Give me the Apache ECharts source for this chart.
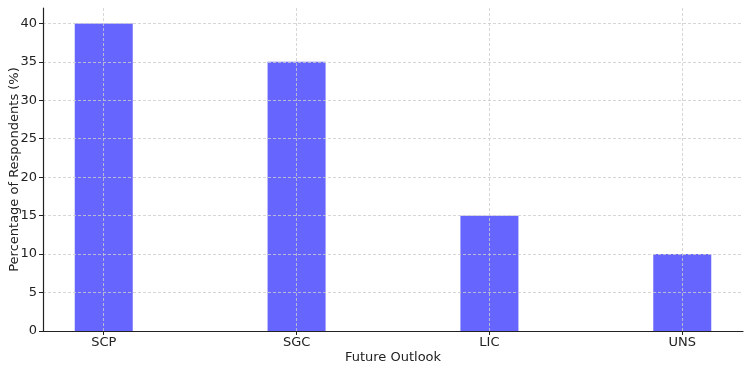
<!DOCTYPE html>
<html>
<head>
<meta charset="utf-8">
<script src="https://cdn.jsdelivr.net/npm/echarts@6/dist/echarts.min.js"></script>
<style>
  html, body { margin: 0; padding: 0; background: #fff; }
  #chart { width: 750px; height: 372px; }
</style>
</head>
<body>
<div id="chart"></div>
<script>
// data
var categories = ["SCP", "SGC", "LIC", "UNS"];
var percentages = [40, 35, 15, 10];
var yTicks = [0, 5, 10, 15, 20, 25, 30, 35, 40];

var positions = categories.map(function (c, i) { return i; });
var barData = percentages.map(function (v, i) { return [i, v]; });

var myChart = echarts.init(document.getElementById("chart"));
var font = "DejaVu Sans";
var gridStyle = { color: "#cccccc", type: [3, 2], width: 0.8 };

myChart.setOption({
  animation: false,
  textStyle: { fontFamily: font },
  grid: { left: 43, right: 7, top: 8, bottom: 41, containLabel: false, outerBoundsMode: "none" },
  xAxis: {
    type: "value",
    min: -0.315,
    max: 3.315,
    z: 3,
    name: "Future Outlook",
    nameLocation: "middle",
    nameGap: 20,
    nameMoveOverlap: false,
    nameTextStyle: { color: "#222", fontSize: 13, fontFamily: font },
    axisLine: { show: true, onZero: false, lineStyle: { color: "#222", width: 1.2 } },
    axisTick: { show: true, length: 4, customValues: positions, lineStyle: { color: "#222" } },
    axisLabel: {
      customValues: positions,
      margin: 5,
      color: "#222",
      fontSize: 13,
      fontFamily: font,
      formatter: function (v) { return categories[Math.round(v)]; }
    },
    splitLine: { show: false }
  },
  yAxis: {
    type: "value",
    min: 0,
    max: 42,
    z: 3,
    name: "Percentage of Respondents (%)",
    nameLocation: "middle",
    nameGap: 22,
    nameMoveOverlap: false,
    nameTextStyle: { color: "#222", fontSize: 13, fontFamily: font },
    axisLine: { show: true, onZero: false, lineStyle: { color: "#222", width: 1.2 } },
    axisTick: { show: true, length: 4, customValues: yTicks, lineStyle: { color: "#222" } },
    axisLabel: { customValues: yTicks, margin: 6, color: "#222", fontSize: 13, fontFamily: font },
    splitLine: { show: true, lineStyle: gridStyle }
  },
  series: [
    {
      type: "bar",
      data: barData,
      barWidth: 58,
      itemStyle: { color: "#6666ff" },
      markLine: {
        silent: true,
        symbol: "none",
        label: { show: false },
        lineStyle: gridStyle,
        z: 4,
        data: positions.map(function (p) { return { xAxis: p }; })
      }
    }
  ]
});
</script>
</body>
</html>
